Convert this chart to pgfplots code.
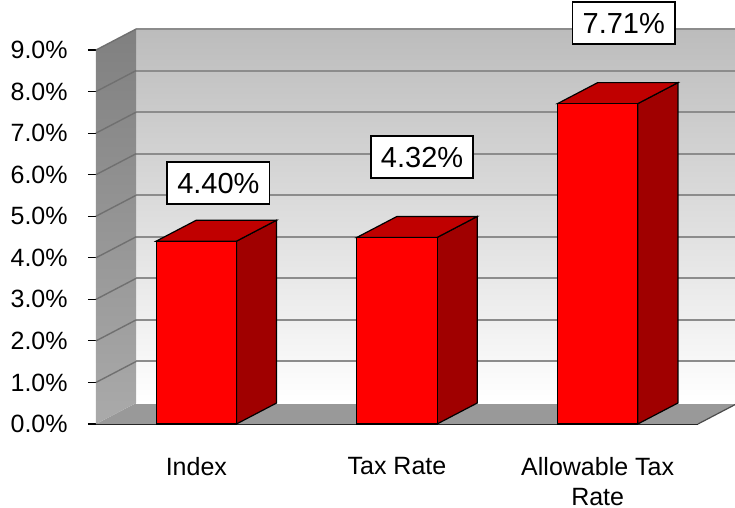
\documentclass[border=0pt]{standalone}
\usepackage{pgfplots}
\pgfplotsset{compat=1.18}
\usepackage{pgfplotstable}
\usepackage{fontspec}
\setmainfont{Liberation Sans}
\definecolor{barfront}{RGB}{255,0,0}
\definecolor{bartop}{RGB}{192,0,0}
\definecolor{barside}{RGB}{160,0,0}
\definecolor{wallback}{RGB}{188,188,188}
\definecolor{wallleftT}{RGB}{128,128,128}
\definecolor{wallleftB}{RGB}{170,170,170}
\definecolor{floorc}{RGB}{153,153,153}
\definecolor{gridc}{RGB}{140,140,140}
\definecolor{gridl}{RGB}{112,112,112}

\pgfplotstableread{
x y
0 4.40
1 4.49
2 7.71
}\bardata

\begin{document}
\begin{tikzpicture}
\begin{axis}[
  scale only axis, width=301pt, height=187pt,
  xmin=-0.5, xmax=2.5, ymin=0, ymax=9,
  clip=false,
  axis lines*=left,
  axis line style={-},
  y axis line style={draw=none},
  x axis line style={draw=black!85, line width=0.8pt},
  xtick={0,1,2},
  xticklabels={Index, Tax Rate, {Allowable Tax\\Rate}},
  xtick style={draw=none},
  minor xtick={-0.5,0.5,1.5,2.5},
  minor tick length=4pt,
  minor x tick style={black, line width=0.6pt},
  ytick={0,1,...,9},
  tick align=outside,
  major tick length=4pt,
  ytick style={black, line width=0.6pt},
  yticklabel={\pgfmathprintnumber[fixed,fixed zerofill,precision=1]{\tick}\%},
  /pgf/number format/assume math mode=true,
  tick label style={font=\fontsize{12.5}{15}\selectfont},
  xticklabel style={align=center, anchor=north, inner sep=0pt, yshift=-12.5pt},
  yticklabel style={anchor=east, inner sep=0pt, xshift=-10pt},
]
% floor
\addplot[draw=none, fill=floorc] coordinates {(-0.5,0) (2.5,0) (2.7,0.505) (-0.3,0.505)} --cycle;
% back wall
\addplot[draw=none, top color=wallback, bottom color=white] coordinates {(-0.3,0.505) (2.7,0.505) (2.7,9.505) (-0.3,9.505)} --cycle;
% left wall
\addplot[draw=none, top color=wallleftT, bottom color=wallleftB] coordinates {(-0.5,0) (-0.3,0.505) (-0.3,9.505) (-0.5,9)} --cycle;
% back wall gridlines
\addplot[gridc, line width=1pt, unbounded coords=jump] coordinates {
(-0.3,1.505) (2.7,1.505) (2.7,nan)
(-0.3,2.505) (2.7,2.505) (2.7,nan)
(-0.3,3.505) (2.7,3.505) (2.7,nan)
(-0.3,4.505) (2.7,4.505) (2.7,nan)
(-0.3,5.505) (2.7,5.505) (2.7,nan)
(-0.3,6.505) (2.7,6.505) (2.7,nan)
(-0.3,7.505) (2.7,7.505) (2.7,nan)
(-0.3,8.505) (2.7,8.505) (2.7,nan)
(-0.3,9.505) (2.7,9.505)
};
% left wall gridlines
\addplot[gridl, line width=0.7pt, unbounded coords=jump] coordinates {
(-0.5,1) (-0.3,1.505) (-0.3,nan)
(-0.5,2) (-0.3,2.505) (-0.3,nan)
(-0.5,3) (-0.3,3.505) (-0.3,nan)
(-0.5,4) (-0.3,4.505) (-0.3,nan)
(-0.5,5) (-0.3,5.505) (-0.3,nan)
(-0.5,6) (-0.3,6.505) (-0.3,nan)
(-0.5,7) (-0.3,7.505) (-0.3,nan)
(-0.5,8) (-0.3,8.505) (-0.3,nan)
(-0.5,9) (-0.3,9.505)
};
% floor right edge
\addplot[black!70, line width=0.6pt] coordinates {(2.5,0) (2.7,0.505)};
% bars: side faces
\addplot[fill=barside, draw=black, line width=0.6pt] coordinates {(0.2,0) (0.4,0.505) (0.4,4.905) (0.2,4.40)} --cycle;
\addplot[fill=barside, draw=black, line width=0.6pt] coordinates {(1.2,0) (1.4,0.505) (1.4,4.995) (1.2,4.49)} --cycle;
\addplot[fill=barside, draw=black, line width=0.6pt] coordinates {(2.2,0) (2.4,0.505) (2.4,8.215) (2.2,7.71)} --cycle;
% bars: top faces
\addplot[fill=bartop, draw=black, line width=0.6pt] coordinates {(-0.2,4.40) (0.2,4.40) (0.4,4.905) (0,4.905)} --cycle;
\addplot[fill=bartop, draw=black, line width=0.6pt] coordinates {(0.8,4.49) (1.2,4.49) (1.4,4.995) (1.0,4.995)} --cycle;
\addplot[fill=bartop, draw=black, line width=0.6pt] coordinates {(1.8,7.71) (2.2,7.71) (2.4,8.215) (2.0,8.215)} --cycle;
% bars: front faces
\addplot[ybar, bar width=0.4, fill=barfront, draw=black, line width=0.6pt] table[x=x, y=y] {\bardata};
% value labels
\addplot[draw=none, mark=none, nodes near coords, point meta=explicit symbolic,
  nodes near coords align={anchor=center},
  every node near coord/.append style={anchor=center, fill=white, draw=black, line width=0.8pt,
    font=\fontsize{14.5}{17}\selectfont, inner xsep=5pt, inner ysep=5.2pt,
    text height=10.5pt, text depth=0pt}]
  coordinates {(0.110,5.80) [4.40\%] (1.125,6.425) [4.32\%] (2.130,9.65) [7.71\%]};
\end{axis}
\pgfresetboundingbox
\path[use as bounding box] (-48pt,-42pt) rectangle (319.5pt,212pt);
\end{tikzpicture}
\end{document}
